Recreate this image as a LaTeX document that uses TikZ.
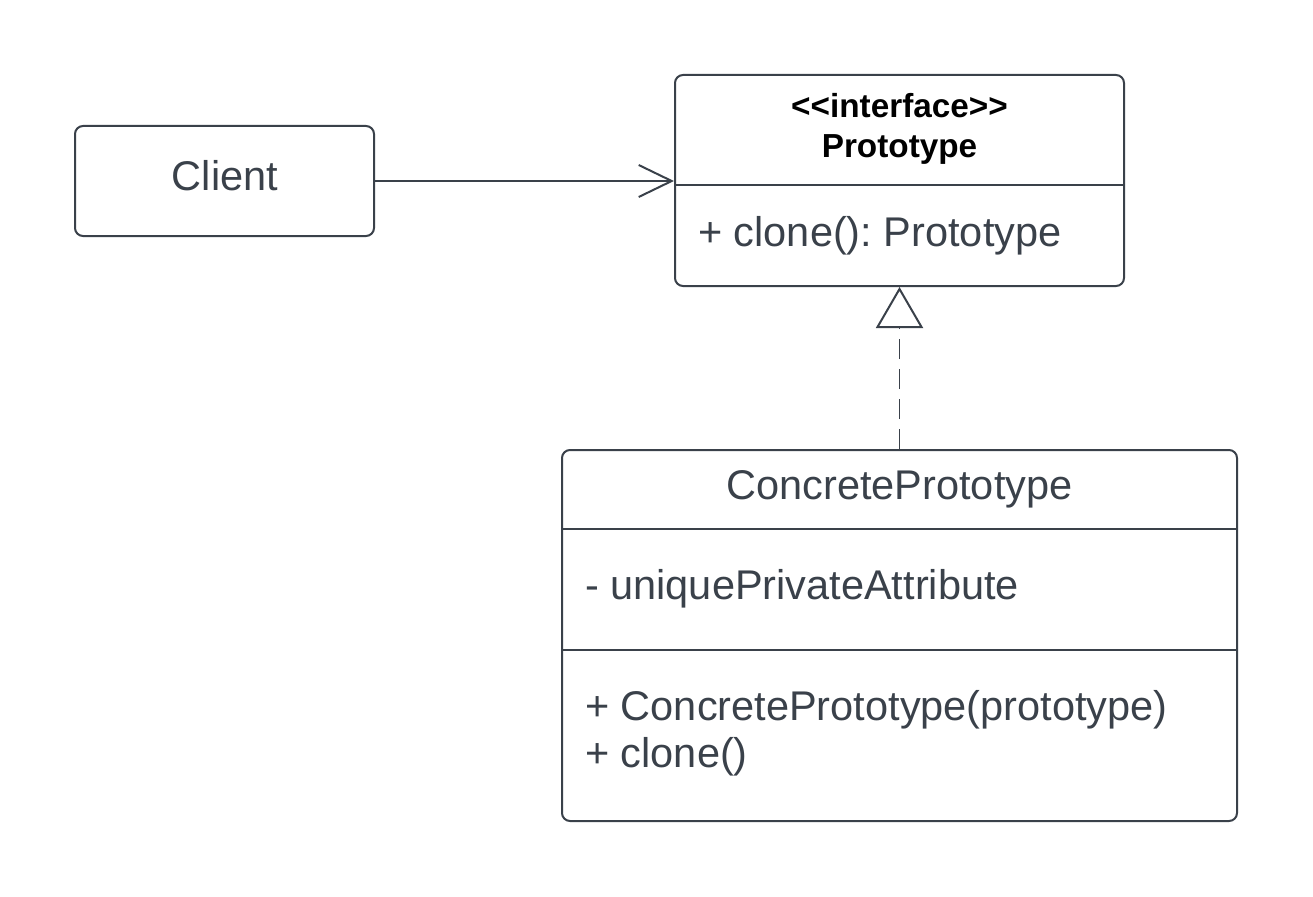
\documentclass[tikz,border=0pt]{standalone}
\usepackage{fontspec}
\setmainfont{Liberation Sans}
\usetikzlibrary{arrows.meta}
\definecolor{ink}{HTML}{3A414A}
\frenchspacing
\begin{document}
\begin{tikzpicture}[x=1pt,y=-1pt,
  box/.style={draw=ink, line width=2pt, rounded corners=8pt, inner sep=0pt, fill=white},
  divider/.style={draw=ink, line width=2pt},
  txt/.style={text=ink, inner sep=0pt, font=\fontsize{41.5}{47}\selectfont},
  head/.style={text=black, inner sep=0pt, font=\fontsize{33.3}{40}\selectfont\bfseries},
  assoc/.style={draw=ink, line width=2pt, -{Straight Barb[length=33pt, width=32pt, line width=2pt]}},
  realize/.style={draw=ink, line width=1pt, dash pattern=on 20pt off 10pt,
    -{Triangle[open, length=41pt, width=47pt, line width=2pt, fill=white]}}
]
\useasboundingbox[fill=white] (0,0) rectangle (1313,896);

% boxes
\node[box, minimum width=299pt, minimum height=110pt] (client) at (224.5,181) {};
\node[box, minimum width=449pt, minimum height=211pt] (proto) at (899.5,180.5) {};
\node[box, minimum width=675pt, minimum height=371pt] (concrete) at (899.5,635.5) {};

% dividers
\coordinate (pd1) at (675,185);
\coordinate (cd1) at (562,529);
\coordinate (cd2) at (562,650);
\draw[divider] (proto.west |- pd1) -- (proto.east |- pd1);
\draw[divider] (concrete.west |- cd1) -- (concrete.east |- cd1);
\draw[divider] (concrete.west |- cd2) -- (concrete.east |- cd2);

% texts
\node[txt, anchor=base] (clientt) at (225,190) {Client};
\node[head, anchor=base] (stereo) at (899.5,118) {<{}<interface>{}>};
\node[head, anchor=base] (protot) at (899.5,158) {Prototype};
\node[txt, anchor=base west] (protom) at (698,246) {+ clone(): Prototype};
\node[txt, anchor=base] (concretet) at (899.5,499) {ConcretePrototype};
\node[txt, anchor=base west] (attr) at (585,599) {- uniquePrivateAttribute};
\node[txt, anchor=base west] (m1) at (585,720) {+ ConcretePrototype(prototype)};
\node[txt, anchor=base west] (m2) at (585,767) {+ clone()};

% connectors
\draw[assoc] (client.east) -- (proto.west |- client.east);
\draw[realize] (concrete.north) -- (proto.south);
\end{tikzpicture}
\end{document}
